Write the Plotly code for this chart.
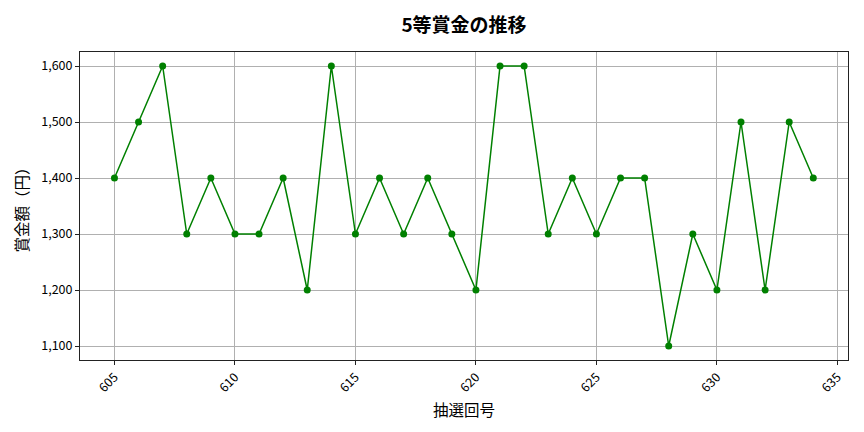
import plotly.graph_objects as go

draws = list(range(605, 635))
prizes = [1400, 1500, 1600, 1300, 1400, 1300, 1300, 1400, 1200, 1600,
          1300, 1400, 1300, 1400, 1300, 1200, 1600, 1600, 1300, 1400,
          1300, 1400, 1400, 1100, 1300, 1200, 1500, 1200, 1500, 1400]
x_ticks = [605, 610, 615, 620, 625, 630, 635]
y_ticks = [1100, 1200, 1300, 1400, 1500, 1600]

font = "Noto Sans CJK JP"
fig = go.Figure(go.Scatter(
    x=draws, y=prizes, mode="lines+markers",
    line=dict(color="green", width=1.5),
    marker=dict(color="green", size=7),
))
fig.update_layout(
    width=856, height=424,
    margin=dict(l=72, r=16, t=44, b=72, autoexpand=False),
    plot_bgcolor="white", paper_bgcolor="white",
    font=dict(family=font, color="black", size=12.5),
    title=dict(text="<b>5等賞金の推移</b>", x=0.5, xref="paper", xanchor="center",
               y=0.96, yanchor="middle", font=dict(size=19, family=font)),
    showlegend=False,
)
fig.update_xaxes(
    range=[603.57, 635.44], tickvals=x_ticks, tickangle=-45,
    showgrid=True, gridcolor="#b0b0b0", gridwidth=0.8,
    showline=True, linecolor="#222", mirror=True, linewidth=1,
    ticks="outside", ticklen=4, tickcolor="#222",
    title=dict(text="抽選回号", font=dict(size=15.5), standoff=10),
    zeroline=False, automargin=False,
)
fig.update_yaxes(
    range=[1075, 1625], tickvals=y_ticks, tickformat=",d",
    showgrid=True, gridcolor="#b0b0b0", gridwidth=0.8,
    showline=True, linecolor="#222", mirror=True, linewidth=1,
    ticks="outside", ticklen=4, tickcolor="#222",
    title=dict(text="賞金額（円）", font=dict(size=15.5), standoff=8),
    zeroline=False, automargin=False,
)
fig.write_html("out.html")
